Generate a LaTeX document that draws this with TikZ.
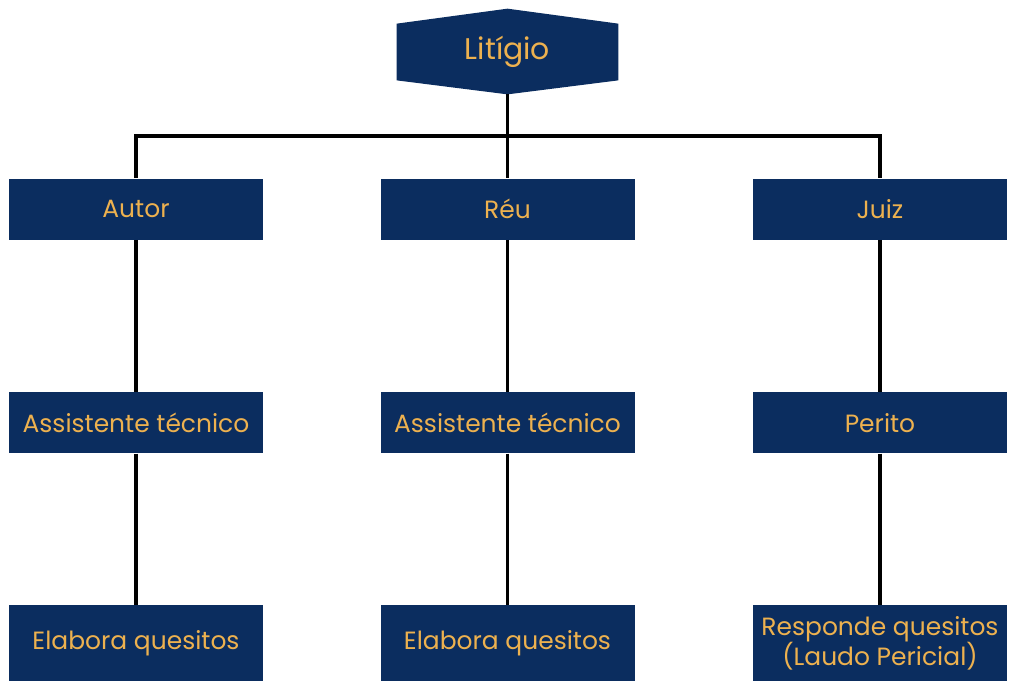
\documentclass[tikz,border=0pt]{standalone}
\usepackage{fontspec}
\setmainfont{Poppins}
\usepackage{tikz}
\usetikzlibrary{backgrounds,calc,positioning}
\definecolor{lnavy}{HTML}{0B2D5F}
\definecolor{lgold}{HTML}{EDB14F}
\tikzset{
  party/.style={fill=lnavy,minimum width=5.08cm,minimum height=1.22cm,inner sep=1pt,
    align=center,font=\fontsize{14.2}{17}\selectfont,text=lgold},
  task/.style={party,minimum height=1.52cm},
  litbox/.style={minimum width=4.42cm,minimum height=1.70cm,inner sep=0pt,
    font=\fontsize{17}{20}\selectfont,text=lgold},
  link/.style={draw=black,line width=2.1pt}
}
\begin{document}
\begin{tikzpicture}[node distance=3.04cm]
    \useasboundingbox (0,0) rectangle (20.48,-13.9);
    \node[litbox] (litigio) at (10.15,-1.03) {Litígio};
    \begin{scope}[on background layer]
      \fill[lnavy] (litigio.north) -- ([yshift=-3mm]litigio.north east) -- ([yshift=2.8mm]litigio.south east)
        -- (litigio.south) -- ([yshift=2.8mm]litigio.south west) -- ([yshift=-3mm]litigio.north west) -- cycle;
    \end{scope}
    \coordinate (junction) at (10.15,-2.72);
    % partes
    \node[party] (autor) at (2.72,-4.18) {Autor};
    \node[party] (reu) at (10.15,-4.18) {Réu};
    \node[party] (juiz) at (17.6,-4.18) {Juiz};
    \node[party,below=of autor] (assautor) {Assistente técnico};
    \node[party,below=of reu] (assreu) {Assistente técnico};
    \node[party,below=of juiz] (perito) {Perito};
    \node[task,below=3.02cm of assautor] (quesautor) {Elabora quesitos};
    \node[task,below=3.02cm of assreu] (quesreu) {Elabora quesitos};
    \node[task,below=3.02cm of perito] (laudo) {Responde quesitos\\(Laudo Pericial)};
    \draw[link] (litigio) -- (junction);
    \draw[link] (autor) |- (junction) -| (juiz);
    \draw[link] (junction) -- (reu);
    \draw[link] (autor)--(assautor);
    \draw[link] (reu)--(assreu);
    \draw[link] (juiz)--(perito);
    \draw[link] (assautor)--(quesautor);
    \draw[link] (assreu)--(quesreu);
    \draw[link] (perito)--(laudo);
\end{tikzpicture}
\end{document}
